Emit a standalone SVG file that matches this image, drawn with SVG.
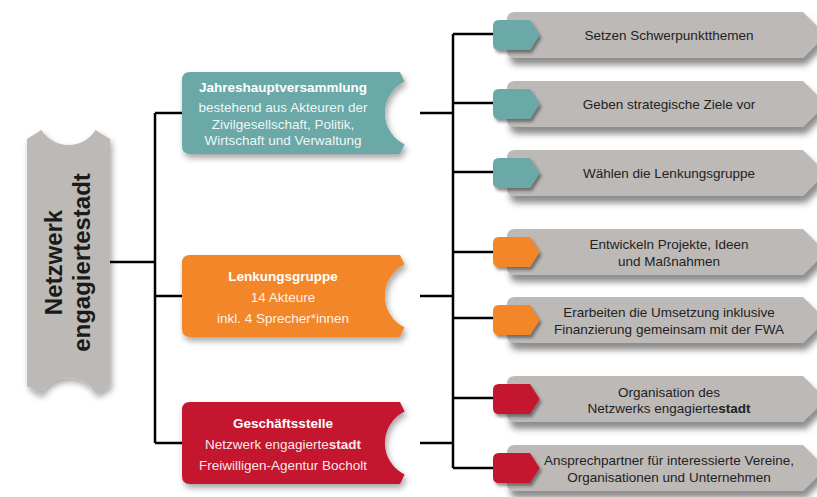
<svg xmlns="http://www.w3.org/2000/svg" width="817" height="497" viewBox="0 0 817 497">
<defs>
<filter id="sh" x="-10%" y="-10%" width="130%" height="140%">
<feDropShadow dx="2" dy="4" stdDeviation="3" flood-color="#000" flood-opacity="0.35"/>
</filter>
<filter id="shg" x="-10%" y="-20%" width="130%" height="160%">
<feDropShadow dx="3" dy="7" stdDeviation="3" flood-color="#333" flood-opacity="0.55"/>
</filter>
<filter id="sht" x="-20%" y="-20%" width="150%" height="160%">
<feDropShadow dx="2" dy="3" stdDeviation="1.5" flood-color="#222" flood-opacity="0.5"/>
</filter>
<path id="main" d="M8,0 H218 L222.6,9.5 A35 35 0 0 0 222.6,72.5 L218,82 H8 Q0,82 0,74 V8 Q0,0 8,0 Z"/>
<path id="box" d="M8,0 H296 L319,23 L296,46 H8 Q0,46 0,38 V8 Q0,0 8,0 Z"/>
<path id="tab" d="M6,0 H37 L46,14 Q47,15 46,16 L37,30 H6 Q0,30 0,24 V6 Q0,0 6,0 Z"/>
</defs>
<style>
.t{font-family:"Liberation Sans",Arial,sans-serif;font-size:13.5px;text-anchor:middle}
.w{fill:#fff}
.ws{fill:#fff;fill-opacity:.92}
.d{fill:#222}
.b{font-weight:bold}
.gray{fill:#bdb9b6}
.teal{fill:#6aa9a7}
.orange{fill:#f4862b}
.red{fill:#c4142f}
.ln{stroke:#000;stroke-width:2.5;fill:none}
</style>
<rect width="817" height="497" fill="#fff"/>

<g id="connectors" class="ln">
<path d="M110,262 H155 M155,113 V443 M155,113 H182 M155,296 H182 M155,443 H182"/>
<path d="M420,113 H453 M420,296 H453 M420,443 H453 M453,34 V468"/>
<path d="M453,34 H493 M453,103 H493 M453,172 H493 M453,252 H493 M453,318 H493 M453,398 H493 M453,468 H493"/>
</g>

<g id="netzwerk">
<path class="gray" filter="url(#sh)" d="M41.4,130 L27,139 V386 L40.8,394 A32 32 0 0 1 96.2,394 L110,386 V139 L95.6,130 A32 32 0 0 1 41.4,130 Z"/>
<text class="t b" style="font-size:24px;fill:#1a1a1a" transform="translate(62,262.5) rotate(-90)" x="0" y="0">Netzwerk</text>
<text class="t b" style="font-size:24px;fill:#1a1a1a" transform="translate(90,262.5) rotate(-90)" x="0" y="0">engagiertestadt</text>
</g>

<g id="jahreshauptversammlung">
<use href="#main" class="teal" filter="url(#sh)" transform="translate(182,72)"/>
<text class="t b w" x="283" y="92">Jahreshauptversammlung</text>
<text class="t ws" x="283" y="112">bestehend aus Akteuren der</text>
<text class="t ws" x="283" y="129">Zivilgesellschaft, Politik,</text>
<text class="t ws" x="283" y="145">Wirtschaft und Verwaltung</text>
</g>

<g id="lenkungsgruppe">
<use href="#main" class="orange" filter="url(#sh)" transform="translate(182,255)"/>
<text class="t b w" x="283" y="281">Lenkungsgruppe</text>
<text class="t ws" x="283" y="302">14 Akteure</text>
<text class="t ws" x="283" y="323">inkl. 4 Sprecher*innen</text>
</g>

<g id="geschaeftsstelle">
<use href="#main" class="red" filter="url(#sh)" transform="translate(182,402)"/>
<text class="t b w" x="283" y="428">Geschäftsstelle</text>
<text class="t ws" x="283" y="449">Netzwerk engagierte<tspan class="b">stadt</tspan></text>
<text class="t ws" x="283" y="470">Freiwilligen-Agentur Bocholt</text>
</g>

<g id="r1">
<use href="#box" class="gray" filter="url(#shg)" transform="translate(507,12)"/>
<use href="#tab" class="teal" filter="url(#sht)" transform="translate(493,20)"/>
<text class="t d" x="669" y="40">Setzen Schwerpunktthemen</text>
</g>
<g id="r2">
<use href="#box" class="gray" filter="url(#shg)" transform="translate(507,81)"/>
<use href="#tab" class="teal" filter="url(#sht)" transform="translate(493,89)"/>
<text class="t d" x="669" y="109">Geben strategische Ziele vor</text>
</g>
<g id="r3">
<use href="#box" class="gray" filter="url(#shg)" transform="translate(507,150)"/>
<use href="#tab" class="teal" filter="url(#sht)" transform="translate(493,158)"/>
<text class="t d" x="669" y="178">Wählen die Lenkungsgruppe</text>
</g>
<g id="r4">
<use href="#box" class="gray" filter="url(#shg)" transform="translate(507,229)"/>
<use href="#tab" class="orange" filter="url(#sht)" transform="translate(493,237)"/>
<text class="t d" x="669" y="249">Entwickeln Projekte, Ideen</text>
<text class="t d" x="669" y="266">und Maßnahmen</text>
</g>
<g id="r5">
<use href="#box" class="gray" filter="url(#shg)" transform="translate(507,297)"/>
<use href="#tab" class="orange" filter="url(#sht)" transform="translate(493,305)"/>
<text class="t d" x="669" y="317">Erarbeiten die Umsetzung inklusive</text>
<text class="t d" x="669" y="334">Finanzierung gemeinsam mit der FWA</text>
</g>
<g id="r6">
<use href="#box" class="gray" filter="url(#shg)" transform="translate(507,376)"/>
<use href="#tab" class="red" filter="url(#sht)" transform="translate(493,384)"/>
<text class="t d" x="669" y="397">Organisation des</text>
<text class="t d" x="669" y="413">Netzwerks engagierte<tspan class="b">stadt</tspan></text>
</g>
<g id="r7">
<use href="#box" class="gray" filter="url(#shg)" transform="translate(507,445)"/>
<use href="#tab" class="red" filter="url(#sht)" transform="translate(493,453)"/>
<text class="t d" x="669" y="465">Ansprechpartner für interessierte Vereine,</text>
<text class="t d" x="669" y="482">Organisationen und Unternehmen</text>
</g>
</svg>
